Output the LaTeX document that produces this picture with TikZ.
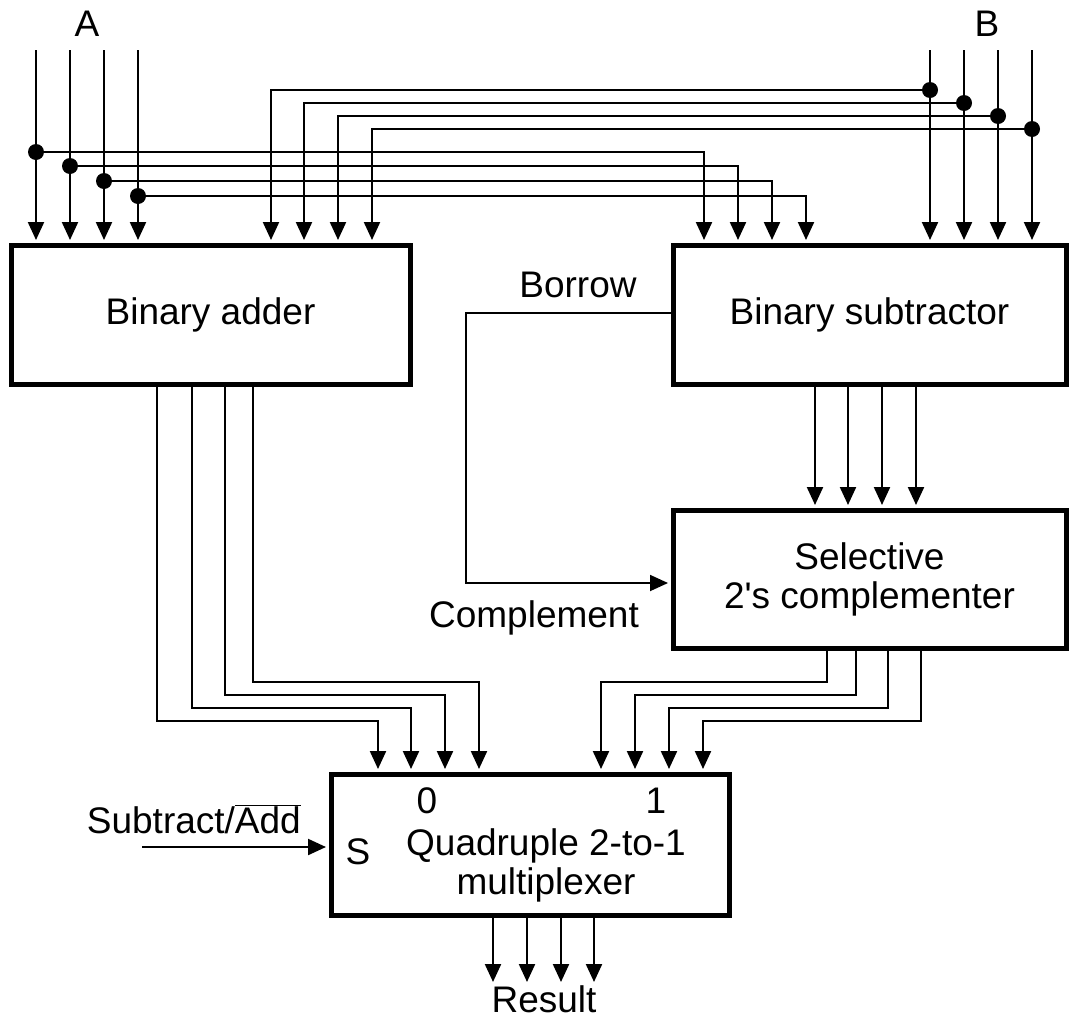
\documentclass[tikz,border=0pt]{standalone}
\usepackage{fontspec}
\setmainfont{Liberation Sans}
\usetikzlibrary{arrows.meta}
\begin{document}
\begin{tikzpicture}[x=1pt,y=-1pt,
  box/.style={draw, line width=5pt, inner sep=0pt, align=center,
    font=\fontsize{37}{39}\selectfont},
  wire/.style={line width=2.2pt},
  arr/.style={wire, -{Triangle[length=18pt,width=16pt]}, shorten >=2.5pt},
  dot/.style={circle, fill, inner sep=0pt, minimum size=16pt},
  lbl/.style={inner sep=0pt, font=\fontsize{37}{39}\selectfont}]
\useasboundingbox (0,0) rectangle (1070,1020);

% boxes
\node[box, minimum width=399pt, minimum height=139pt] (adder) at (210.5,314.5) {Binary adder};
\node[box, minimum width=393pt, minimum height=139pt] (sub) at (869.5,314.5) {Binary subtractor};
\node[box, minimum width=393pt, minimum height=138pt] (comp) at (869.5,579) {Selective\\2\textquotesingle s complementer};
\node[box, minimum width=398pt, minimum height=141pt] (mux) at (530,844.5) {};

% mux texts
\node[lbl] (q) at (546,846) {Quadruple 2-to-1};
\node[lbl] (mx) at (546,885) {multiplexer};
\node[lbl] (zero) at (427,801) {0};
\node[lbl] (one) at (656,801) {1};
\node[lbl] (s) at (358,852) {S};

% labels
\node[lbl] (la) at (87,24) {A};
\node[lbl] (lb) at (987,24) {B};
\node[lbl] (lborrow) at (578,285) {Borrow};
\node[lbl] (lcomp) at (534,618) {Complement};
\node[lbl, anchor=base east] (lsel) at (301,833) {Subtract/$\overline{\mbox{Add}}$};
\node[lbl] (lres) at (544,999) {Result};

% A inputs
\foreach \i/\x/\y/\t in {1/36/152/704, 2/70/166/738, 3/104/181/772, 4/138/196/806} {
  \coordinate (a\i) at (\x,50);
  \coordinate (st\i) at (\t,0);
  \node[dot] (da\i) at (\x,\y) {};
  \draw[arr] (a\i) -- (a\i |- adder.north);
  \draw[arr] (da\i.center) -| (st\i |- sub.north);
}

% B inputs
\foreach \i/\x/\y/\t in {1/930/90/271, 2/964/103/304, 3/998/116/338, 4/1032/129/372} {
  \coordinate (b\i) at (\x,50);
  \coordinate (at\i) at (\t,0);
  \node[dot] (db\i) at (\x,\y) {};
  \draw[arr] (b\i) -- (b\i |- sub.north);
  \draw[arr] (db\i.center) -| (at\i |- adder.north);
}

% subtractor -> complementer
\foreach \i/\x in {1/815, 2/848, 3/882, 4/916} {
  \coordinate (so\i) at (\x,0);
  \draw[arr] (so\i |- sub.south) -- (so\i |- comp.north);
}

% adder -> mux input 0
\foreach \i/\x/\y/\t in {1/157/721/378, 2/192/708/411, 3/225/695/445, 4/253/682/479} {
  \coordinate (ao\i) at (\x,\y);
  \coordinate (m\i) at (\t,0);
  \draw[arr] (ao\i |- adder.south) -- (ao\i) -| (m\i |- mux.north);
}

% complementer -> mux input 1
\foreach \i/\x/\y/\t in {1/827/682/601, 2/856/695/635, 3/888/708/669, 4/921/721/703} {
  \coordinate (co\i) at (\x,\y);
  \coordinate (n\i) at (\t,0);
  \draw[arr] (co\i |- comp.south) -- (co\i) -| (n\i |- mux.north);
}

% borrow -> complement
\coordinate (bk) at (466,583);
\draw[arr, line width=1.8pt] (sub.west |- 0,313) -| (bk) -- (bk -| comp.west);

% select
\coordinate (selin) at (142,847);
\draw[arr] (selin) -- (selin -| mux.west);

% result
\foreach \i/\x in {1/493, 2/527, 3/561, 4/594} {
  \coordinate (r\i) at (\x,982);
  \draw[arr, shorten >=0pt] (r\i |- mux.south) -- (r\i);
}
\end{tikzpicture}
\end{document}
